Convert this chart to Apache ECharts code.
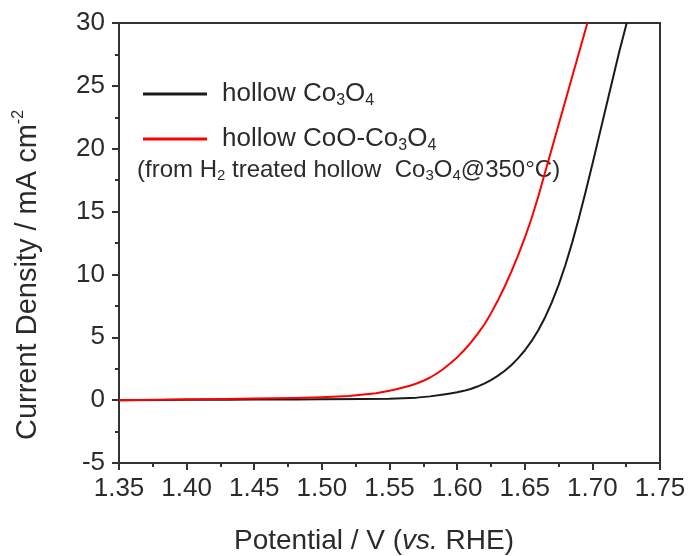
<!DOCTYPE html>
<html>
<head>
<meta charset="utf-8">
<script src="https://cdn.jsdelivr.net/npm/echarts@6/dist/echarts.min.js"></script>
<style>
  html, body { margin: 0; padding: 0; background: #fff; }
  #chart { width: 690px; height: 556px; }
</style>
</head>
<body>
<div id="chart"></div>
<script>
// Polarization curves (LSV): potential in V vs. RHE, current density in mA cm^-2
var co3o4Potential = [1.35, 1.38, 1.40, 1.43, 1.45, 1.48, 1.50, 1.53, 1.55, 1.57, 1.58, 1.59, 1.595, 1.60, 1.605, 1.61, 1.615, 1.62, 1.625, 1.63, 1.635, 1.64, 1.645, 1.65, 1.655, 1.66, 1.665, 1.67, 1.675, 1.68, 1.685, 1.69, 1.695, 1.70, 1.705, 1.71, 1.715, 1.72, 1.7254];
var co3o4Current   = [0.0, 0.02, 0.03, 0.04, 0.05, 0.06, 0.07, 0.09, 0.12, 0.2, 0.3, 0.45, 0.53, 0.62, 0.74, 0.89, 1.08, 1.32, 1.60, 1.93, 2.32, 2.78, 3.32, 3.95, 4.69, 5.56, 6.58, 7.77, 9.15, 10.73, 12.51, 14.47, 16.57, 18.77, 21.02, 23.27, 25.52, 27.77, 30.0];

var cooPotential = [1.35, 1.38, 1.40, 1.43, 1.45, 1.48, 1.50, 1.52, 1.54, 1.55, 1.555, 1.56, 1.565, 1.57, 1.575, 1.58, 1.585, 1.59, 1.595, 1.60, 1.605, 1.61, 1.615, 1.62, 1.625, 1.63, 1.635, 1.64, 1.645, 1.65, 1.655, 1.66, 1.665, 1.67, 1.675, 1.68, 1.685, 1.69, 1.6963];
var cooCurrent   = [0.0, 0.04, 0.07, 0.1, 0.13, 0.18, 0.24, 0.33, 0.55, 0.75, 0.86, 1.0, 1.14, 1.32, 1.54, 1.8, 2.12, 2.5, 2.93, 3.4, 3.95, 4.55, 5.25, 6.0, 6.9, 7.9, 9.0, 10.2, 11.5, 12.9, 14.45, 16.2, 18.1, 20.0, 21.9, 23.8, 25.7, 27.6, 30.0];

var seriesNames = ['hollow Co3O4', 'hollow CoO-Co3O4'];
var seriesLabels = {
  'hollow Co3O4': '{t|hollow Co}{s|3}{t|O}{s|4}',
  'hollow CoO-Co3O4': '{t|hollow CoO-Co}{s|3}{t|O}{s|4}'
};

var xMin = 1.35, xMax = 1.75, xStep = 0.05;
var yMin = -5, yMax = 30, yStep = 5;

function pairs(xs, ys) {
  return xs.map(function (x, i) { return [x, ys[i]]; });
}

var textColor = '#2b2b2b';
var axisColor = '#333';
var font = 'Arial, "Liberation Sans", sans-serif';

var chart = echarts.init(document.getElementById('chart'));

// frame edges (top / right) carry no ticks or labels
var frameAxis = {
  axisLine: { show: true, onZero: false, lineStyle: { color: axisColor, width: 2 } },
  axisTick: { show: false },
  axisLabel: { show: false },
  splitLine: { show: false }
};

chart.setOption({
  backgroundColor: '#fff',
  animation: false,
  grid: { left: 119, right: 30, top: 23, bottom: 93 },
  xAxis: [
    {
      type: 'value', min: xMin, max: xMax, interval: xStep, position: 'bottom',
      axisLine: frameAxis.axisLine,
      splitLine: { show: false },
      axisTick: { show: true, length: 7, lineStyle: { color: axisColor, width: 2 } },
      minorTick: { show: true, splitNumber: 2, length: 4, lineStyle: { color: axisColor, width: 2 } },
      axisLabel: {
        show: true, margin: 13, color: textColor, fontSize: 26, fontFamily: font,
        formatter: function (v) { return v.toFixed(2); }
      }
    },
    Object.assign({ type: 'value', min: xMin, max: xMax, position: 'top' }, frameAxis)
  ],
  yAxis: [
    {
      type: 'value', min: yMin, max: yMax, interval: yStep, position: 'left',
      axisLine: frameAxis.axisLine,
      splitLine: { show: false },
      axisTick: { show: true, length: 7, lineStyle: { color: axisColor, width: 2 } },
      minorTick: { show: true, splitNumber: 2, length: 4, lineStyle: { color: axisColor, width: 2 } },
      axisLabel: { show: true, margin: 14, color: textColor, fontSize: 26, fontFamily: font }
    },
    Object.assign({ type: 'value', min: yMin, max: yMax, position: 'right' }, frameAxis)
  ],
  legend: {
    data: [
      { name: seriesNames[0], icon: 'rect' },
      { name: seriesNames[1], icon: 'rect' }
    ],
    orient: 'vertical',
    left: 138, top: 76,
    itemWidth: 64, itemHeight: 3, itemGap: 17,
    formatter: function (name) { return seriesLabels[name]; },
    textStyle: {
      padding: [0, 0, 0, 10],
      rich: {
        t: { fontSize: 26, fontFamily: font, color: textColor, lineHeight: 30, verticalAlign: 'middle' },
        s: { fontSize: 16, fontFamily: font, color: textColor, lineHeight: 15, verticalAlign: 'bottom' }
      }
    }
  },
  series: [
    {
      name: seriesNames[0], type: 'line', xAxisIndex: 0, yAxisIndex: 0,
      data: pairs(co3o4Potential, co3o4Current),
      showSymbol: false, symbol: 'none', smooth: false,
      itemStyle: { color: '#1a1a1a' },
      lineStyle: { color: '#1a1a1a', width: 2, join: 'round' }
    },
    {
      name: seriesNames[1], type: 'line', xAxisIndex: 0, yAxisIndex: 0,
      data: pairs(cooPotential, cooCurrent),
      showSymbol: false, symbol: 'none', smooth: false,
      itemStyle: { color: '#ff0000' },
      lineStyle: { color: '#ff0000', width: 2, join: 'round' }
    }
  ],
  graphic: [
    {
      type: 'text', left: 137, top: 158,
      style: {
        text: '{t|(from H}{s|2}{t| treated hollow  Co}{s|3}{t|O}{s|4}{t|@350°C)}',
        rich: {
          t: { fontSize: 24, fontFamily: font, fill: textColor, lineHeight: 26, verticalAlign: 'middle' },
          s: { fontSize: 15, fontFamily: font, fill: textColor, lineHeight: 13, verticalAlign: 'bottom' }
        }
      }
    },
    {
      type: 'text', x: 374, y: 541,
      style: {
        text: '{t|Potential / V (}{i|vs.}{t| RHE)}',
        align: 'center', verticalAlign: 'middle',
        rich: {
          t: { fontSize: 28, fontFamily: font, fill: textColor },
          i: { fontSize: 28, fontFamily: font, fontStyle: 'italic', fill: textColor }
        }
      }
    },
    {
      type: 'text', x: 28, y: 275, rotation: Math.PI / 2,
      style: {
        text: '{t|Current Density / mA cm}{p|-2}',
        align: 'center', verticalAlign: 'middle',
        rich: {
          t: { fontSize: 29, fontFamily: font, fill: textColor, lineHeight: 34, verticalAlign: 'middle' },
          p: { fontSize: 16, fontFamily: font, fill: textColor, lineHeight: 16, verticalAlign: 'top' }
        }
      }
    }
  ]
});
</script>
</body>
</html>
